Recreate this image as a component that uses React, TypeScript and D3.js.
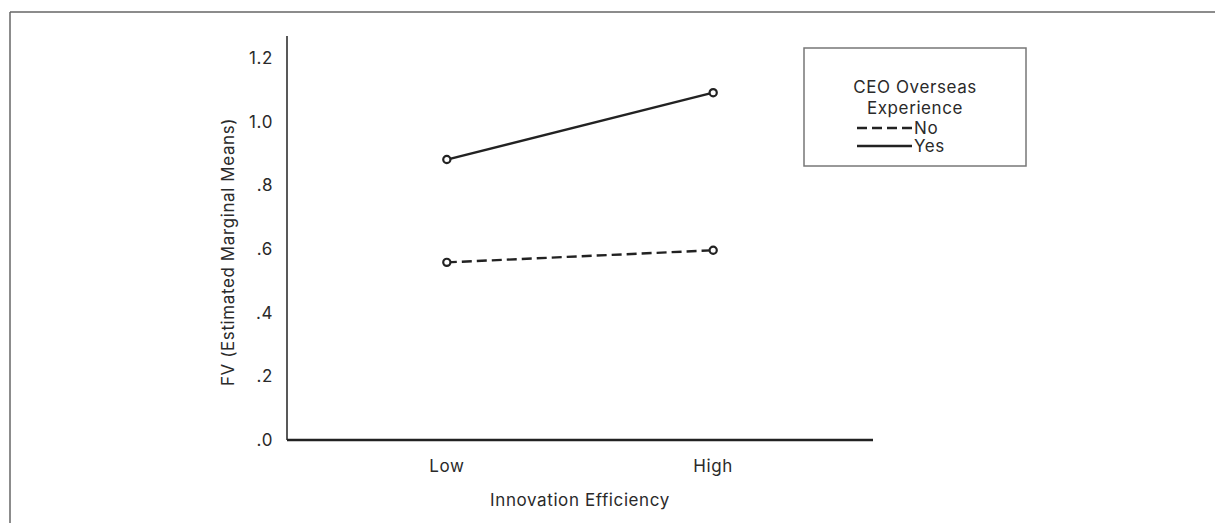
import React from "react";
import * as d3 from "d3";

const categories = ["Low", "High"];
const seriesNames = ["No", "Yes"];
const noValues = [0.558, 0.596];
const yesValues = [0.881, 1.091];
const yTicks = [0, 0.2, 0.4, 0.6, 0.8, 1.0, 1.2];
const yTickLabels = [".0", ".2", ".4", ".6", ".8", "1.0", "1.2"];
const xTitle = "Innovation Efficiency";
const yTitle = "FV (Estimated Marginal Means)";
const legendTitle = ["CEO Overseas", "Experience"];

const W = 1215, H = 523;
const FONT = "Inter, 'Open Sans', sans-serif";
const FS = 17;
const LS = 0.6;

export default function App() {
  const x0 = 287, x1 = 873, yBase = 440, yTop = 36;
  const y = d3.scaleLinear().domain([0, 1.2]).range([yBase, 58]);
  const x = d3.scalePoint<string>().domain(categories).range([x0, x1]).padding(0.6);
  const line = d3.line<[string, number]>().x(d => x(d[0])!).y(d => y(d[1]));
  const series = [
    { name: seriesNames[0], values: noValues, dash: "10,5" },
    { name: seriesNames[1], values: yesValues, dash: null },
  ];
  const lx = 804, ly = 48, lw = 222, lh = 118;
  const txt = { fontSize: FS, fill: "#2a2a2a", letterSpacing: LS } as const;
  return (
    <svg width={W} height={H} style={{ position: "absolute", left: 0, top: 0 }} fontFamily={FONT}>
      <rect x={0} y={0} width={W} height={H} fill="#fff" />
      <line x1={10} y1={12} x2={W} y2={12} stroke="#666" strokeWidth={1.5} />
      <line x1={10} y1={12} x2={10} y2={H} stroke="#666" strokeWidth={1.5} />
      {/* axes */}
      <line x1={x0} y1={yTop} x2={x0} y2={yBase} stroke="#222" strokeWidth={1.5} />
      <line x1={x0} y1={yBase} x2={x1} y2={yBase} stroke="#222" strokeWidth={2.5} />
      {yTicks.map((t, i) => (
        <text key={i} x={273} y={y(t)} dy="0.36em" textAnchor="end" {...txt}>{yTickLabels[i]}</text>
      ))}
      {categories.map(c => (
        <text key={c} x={x(c)} y={472} textAnchor="middle" {...txt}>{c}</text>
      ))}
      <text x={(x0 + x1) / 2} y={506} textAnchor="middle" {...txt}>{xTitle}</text>
      <text transform={`translate(234,${(yTop + yBase) / 2 + 14}) rotate(-90)`} textAnchor="middle" {...txt}>{yTitle}</text>
      {series.map(s => {
        const pts = categories.map((c, i) => [c, s.values[i]] as [string, number]);
        return (
          <g key={s.name}>
            <path d={line(pts)!} fill="none" stroke="#222" strokeWidth={2.4} strokeDasharray={s.dash ?? undefined} />
            {pts.map((p, i) => (
              <circle key={i} cx={x(p[0])} cy={y(p[1])} r={3.6} fill="#fff" stroke="#222" strokeWidth={2.2} />
            ))}
          </g>
        );
      })}
      {/* legend */}
      <rect x={lx} y={ly} width={lw} height={lh} fill="#fff" stroke="#777" strokeWidth={1.5} />
      <text x={915} y={93} textAnchor="middle" {...txt}>{legendTitle[0]}</text>
      <text x={915} y={114} textAnchor="middle" {...txt}>{legendTitle[1]}</text>
      {series.map((s, i) => (
        <g key={s.name}>
          <line x1={857} x2={912} y1={128 + i * 18} y2={128 + i * 18} stroke="#222" strokeWidth={2.4} strokeDasharray={s.dash ?? undefined} />
          <text x={914} y={128 + i * 18} dy="0.36em" {...txt}>{s.name}</text>
        </g>
      ))}
    </svg>
  );
}
